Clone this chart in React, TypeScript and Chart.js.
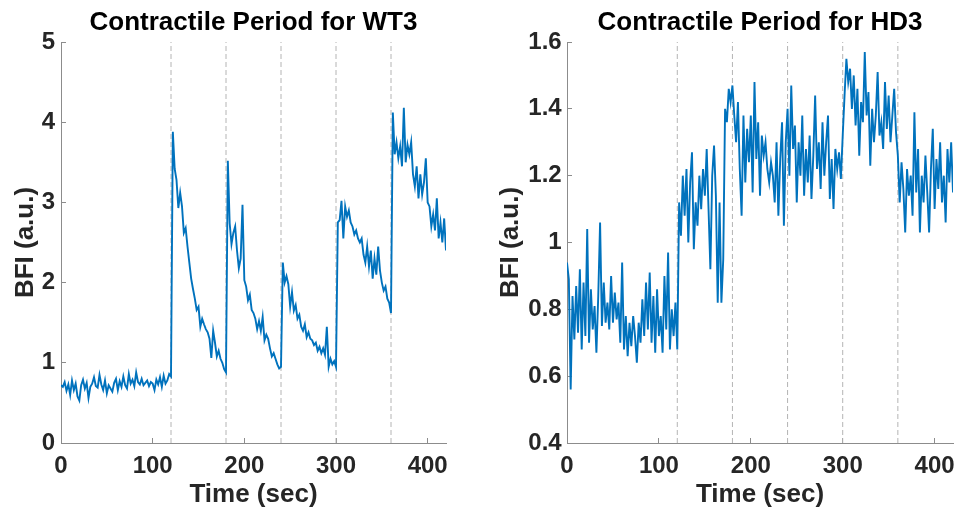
import React, { useEffect, useRef } from 'react';
import { Chart, registerables } from 'chart.js';

Chart.register(...registerables);

// ---- data ----
const SAMPLE_INTERVAL_SEC = 2; // one sample every 2 s, from 0 to 420 s
const STIM_TIMES = [120, 180, 240, 300, 360];
const X_MIN = 0;
const X_MAX = 420;
const X_STEP = 100;

const WT3_TITLE = 'Contractile Period for WT3';
const HD3_TITLE = 'Contractile Period for HD3';
const X_LABEL = 'Time (sec)';
const Y_LABEL = 'BFI (a.u.)';

const WT3_BFI = [
  0.72, 0.70, 0.76, 0.65, 0.73, 0.60, 0.78, 0.66, 0.74, 0.58,
  0.53, 0.72, 0.79, 0.68, 0.75, 0.56, 0.70, 0.74, 0.82, 0.71,
  0.69, 0.85, 0.73, 0.66, 0.78, 0.62, 0.72, 0.68, 0.64, 0.75,
  0.80, 0.66, 0.77, 0.70, 0.83, 0.72, 0.68, 0.86, 0.74, 0.79,
  0.71, 0.88, 0.76, 0.73, 0.80, 0.72, 0.75, 0.78, 0.71, 0.76,
  0.74, 0.66, 0.79, 0.73, 0.82, 0.70, 0.84, 0.74, 0.78, 0.86,
  0.83, 3.88, 3.42, 3.28, 2.93, 3.12, 2.95, 2.62, 2.68, 2.45,
  2.25, 2.05, 1.92, 1.80, 1.66, 1.70, 1.45, 1.55, 1.48, 1.42,
  1.38, 1.30, 1.06, 1.40, 1.25, 1.08, 1.15, 1.05, 1.00, 0.92,
  0.88, 3.52, 2.74, 2.48, 2.62, 2.70, 2.40, 2.18, 2.30, 2.97,
  2.03, 1.95, 1.78, 1.85, 1.66, 1.62, 1.55, 1.42, 1.52, 1.40,
  1.57, 1.28, 1.35, 1.30, 1.18, 1.08, 1.12, 1.05, 0.98, 0.93,
  0.95, 2.25, 2.00, 2.08, 1.98, 1.70, 1.88, 1.65, 1.72, 1.55,
  1.60, 1.45, 1.40, 1.48, 1.32, 1.38, 1.30, 1.28, 1.22, 1.25,
  1.15, 1.20, 1.12, 1.18, 1.10, 1.45, 0.95, 1.05, 0.98, 1.02,
  0.95, 2.75, 2.78, 3.02, 2.55, 2.95, 2.82, 2.90, 2.75, 2.70,
  2.60, 2.65, 2.55, 2.50, 2.55, 2.35, 2.25, 2.45, 2.20, 2.40,
  2.05, 2.30, 2.10, 2.45, 2.15, 2.00, 1.90, 1.95, 1.80, 1.75,
  1.62, 4.12, 3.60, 3.75, 3.55, 3.70, 3.45, 4.18, 3.50, 3.72,
  3.60, 3.75, 3.35, 3.20, 3.45, 3.05, 3.35, 3.10, 3.25, 3.55,
  3.00, 2.95, 2.70, 2.85, 2.65, 3.05, 2.55, 2.75, 2.50, 2.80,
  2.40,
];

const HD3_BFI = [
  0.94, 0.89, 0.56, 0.84, 0.71, 0.87, 0.73, 0.92, 0.68, 0.88,
  0.72, 1.04, 0.70, 0.86, 0.74, 0.81, 0.67, 0.84, 1.06, 0.75,
  0.88, 0.76, 0.82, 0.74, 0.90, 0.76, 0.85, 0.77, 0.82, 0.70,
  0.94, 0.68, 0.78, 0.66, 0.76, 0.69, 0.78, 0.72, 0.64, 0.76,
  0.70, 0.83, 0.72, 0.88, 0.74, 0.91, 0.70, 0.84, 0.67, 0.86,
  0.72, 0.78, 0.67, 0.90, 0.74, 0.97, 0.68, 0.80, 0.72, 0.82,
  0.68, 1.12, 1.02, 1.20, 1.08, 1.22, 1.00, 1.18, 1.27, 0.98,
  1.12, 1.05, 1.20, 1.10, 1.22, 1.14, 1.28, 1.10, 0.92, 1.20,
  1.29, 1.14, 0.82, 1.12, 0.82, 0.95, 1.40, 1.36, 1.46, 1.42,
  1.47, 1.38, 1.30, 1.42, 1.22, 1.08, 1.38, 1.18, 1.34, 1.24,
  1.38, 1.15, 1.48, 1.25, 1.36, 1.14, 1.32, 1.26, 1.30, 1.22,
  1.18, 1.24, 1.20, 1.12, 1.30, 1.08, 1.25, 1.36, 1.05, 1.30,
  1.40, 1.20, 1.47, 1.28, 1.35, 1.12, 1.30, 1.20, 1.38, 1.14,
  1.28, 1.18, 1.32, 1.13, 1.26, 1.44, 1.22, 1.30, 1.16, 1.36,
  1.20, 1.30, 1.38, 1.13, 1.25, 1.10, 1.28, 1.22, 1.27, 1.19,
  1.32, 1.44, 1.55, 1.48, 1.52, 1.40, 1.50, 1.35, 1.46, 1.26,
  1.42, 1.36, 1.57, 1.38, 1.45, 1.23, 1.40, 1.30, 1.38, 1.51,
  1.32, 1.36, 1.28, 1.48, 1.34, 1.44, 1.30, 1.38, 1.46, 1.33,
  1.26, 1.12, 1.24, 1.16, 1.03, 1.22, 1.14, 1.20, 1.08, 1.39,
  1.15, 1.28, 1.03, 1.20, 1.12, 1.26, 1.15, 1.03, 1.22, 1.34,
  1.10, 1.25, 1.16, 1.30, 1.12, 1.20, 1.06, 1.28, 1.18, 1.30,
  1.15,
];

// ---- style ----
const FONT = "'Liberation Sans', Arial, Helvetica, sans-serif";
const LINE_BLUE = '#0072BD';
const AXIS_GRAY = '#8c8c8c';
const TEXT_DARK = '#262626';
const DASH_GRAY = '#b4b4b4';
const CANVAS_H = 514;

type PanelProps = {
  title: string;
  values: number[];
  yMin: number;
  yMax: number;
  yStep: number;
  width: number;
  yAxisWidth: number;
  padRight: number;
  yTitlePad: number;
  yTickPad: number;
};

function zeroScalePadding(s: any) {
  s.paddingLeft = 0;
  s.paddingRight = 0;
  s.paddingTop = 0;
  s.paddingBottom = 0;
}

function Panel(p: PanelProps) {
  const ref = useRef<HTMLCanvasElement>(null);

  useEffect(() => {
    if (!ref.current) return;
    const points = p.values.map((v, i) => ({ x: i * SAMPLE_INTERVAL_SEC, y: v }));
    const markers = STIM_TIMES.map((t) => ({
      data: [
        { x: t, y: p.yMin },
        { x: t, y: p.yMax },
      ],
      borderColor: DASH_GRAY,
      borderWidth: 1,
      borderDash: [5, 3],
      pointRadius: 0,
      fill: false,
      order: 2,
    }));

    const chart = new Chart(ref.current, {
      type: 'line',
      data: {
        datasets: [
          {
            data: points,
            borderColor: LINE_BLUE,
            borderWidth: 1.9,
            pointRadius: 0,
            tension: 0,
            fill: false,
            order: 0,
          },
          ...markers,
        ],
      },
      options: {
        animation: false,
        responsive: false,
        events: [],
        layout: {
          autoPadding: false,
          padding: { top: 0, left: 0, bottom: 0, right: p.padRight },
        },
        plugins: {
          legend: { display: false },
          tooltip: { enabled: false },
          title: {
            display: true,
            text: p.title,
            fullSize: false,
            color: '#000',
            font: { family: FONT, size: 26, weight: 'bold' },
            padding: { top: 7.4, bottom: 3.4 },
          },
        },
        scales: {
          x: {
            type: 'linear',
            min: X_MIN,
            max: X_MAX,
            afterFit: (s: any) => {
              s.height = 71;
              zeroScalePadding(s);
            },
            border: { display: true, color: AXIS_GRAY, width: 1 },
            grid: {
              drawOnChartArea: false,
              drawTicks: true,
              tickLength: -5,
              color: AXIS_GRAY,
              lineWidth: 1,
            },
            ticks: {
              stepSize: X_STEP,
              includeBounds: false,
              maxRotation: 0,
              autoSkip: false,
              padding: 14,
              color: TEXT_DARK,
              font: { family: FONT, size: 24, weight: 'bold' },
            },
            title: {
              display: true,
              text: X_LABEL,
              color: TEXT_DARK,
              font: { family: FONT, size: 26, weight: 'bold' },
              padding: { top: 0, bottom: 3.4 },
            },
          },
          y: {
            type: 'linear',
            min: p.yMin,
            max: p.yMax,
            afterFit: (s: any) => {
              s.width = p.yAxisWidth;
              zeroScalePadding(s);
            },
            border: { display: true, color: AXIS_GRAY, width: 1 },
            grid: {
              drawOnChartArea: false,
              drawTicks: true,
              tickLength: -5,
              color: AXIS_GRAY,
              lineWidth: 1,
            },
            ticks: {
              stepSize: p.yStep,
              includeBounds: false,
              autoSkip: false,
              padding: p.yTickPad,
              color: TEXT_DARK,
              font: { family: FONT, size: 24, weight: 'bold' },
              callback: (v: any) => String(Math.round(Number(v) * 10) / 10),
            },
            title: {
              display: true,
              text: Y_LABEL,
              color: TEXT_DARK,
              font: { family: FONT, size: 26, weight: 'bold' },
              padding: { top: p.yTitlePad, bottom: 0 },
            },
          },
        },
      } as any,
    });
    return () => chart.destroy();
  }, []);

  return (
    <canvas
      ref={ref}
      width={p.width}
      height={CANVAS_H}
      style={{ display: 'block', width: p.width, height: CANVAS_H }}
    />
  );
}

export default function App() {
  return (
    <div
      style={{
        position: 'fixed',
        left: 0,
        top: 0,
        width: 956,
        height: CANVAS_H,
        display: 'flex',
        background: '#ffffff',
      }}
    >
      <Panel
        title={WT3_TITLE}
        values={WT3_BFI}
        yMin={0}
        yMax={5}
        yStep={1}
        width={480}
        yAxisWidth={61}
        padRight={34}
        yTitlePad={10.4}
        yTickPad={11}
      />
      <Panel
        title={HD3_TITLE}
        values={HD3_BFI}
        yMin={0.4}
        yMax={1.6}
        yStep={0.2}
        width={476}
        yAxisWidth={87}
        padRight={3}
        yTitlePad={15.6}
        yTickPad={10.3}
      />
    </div>
  );
}
